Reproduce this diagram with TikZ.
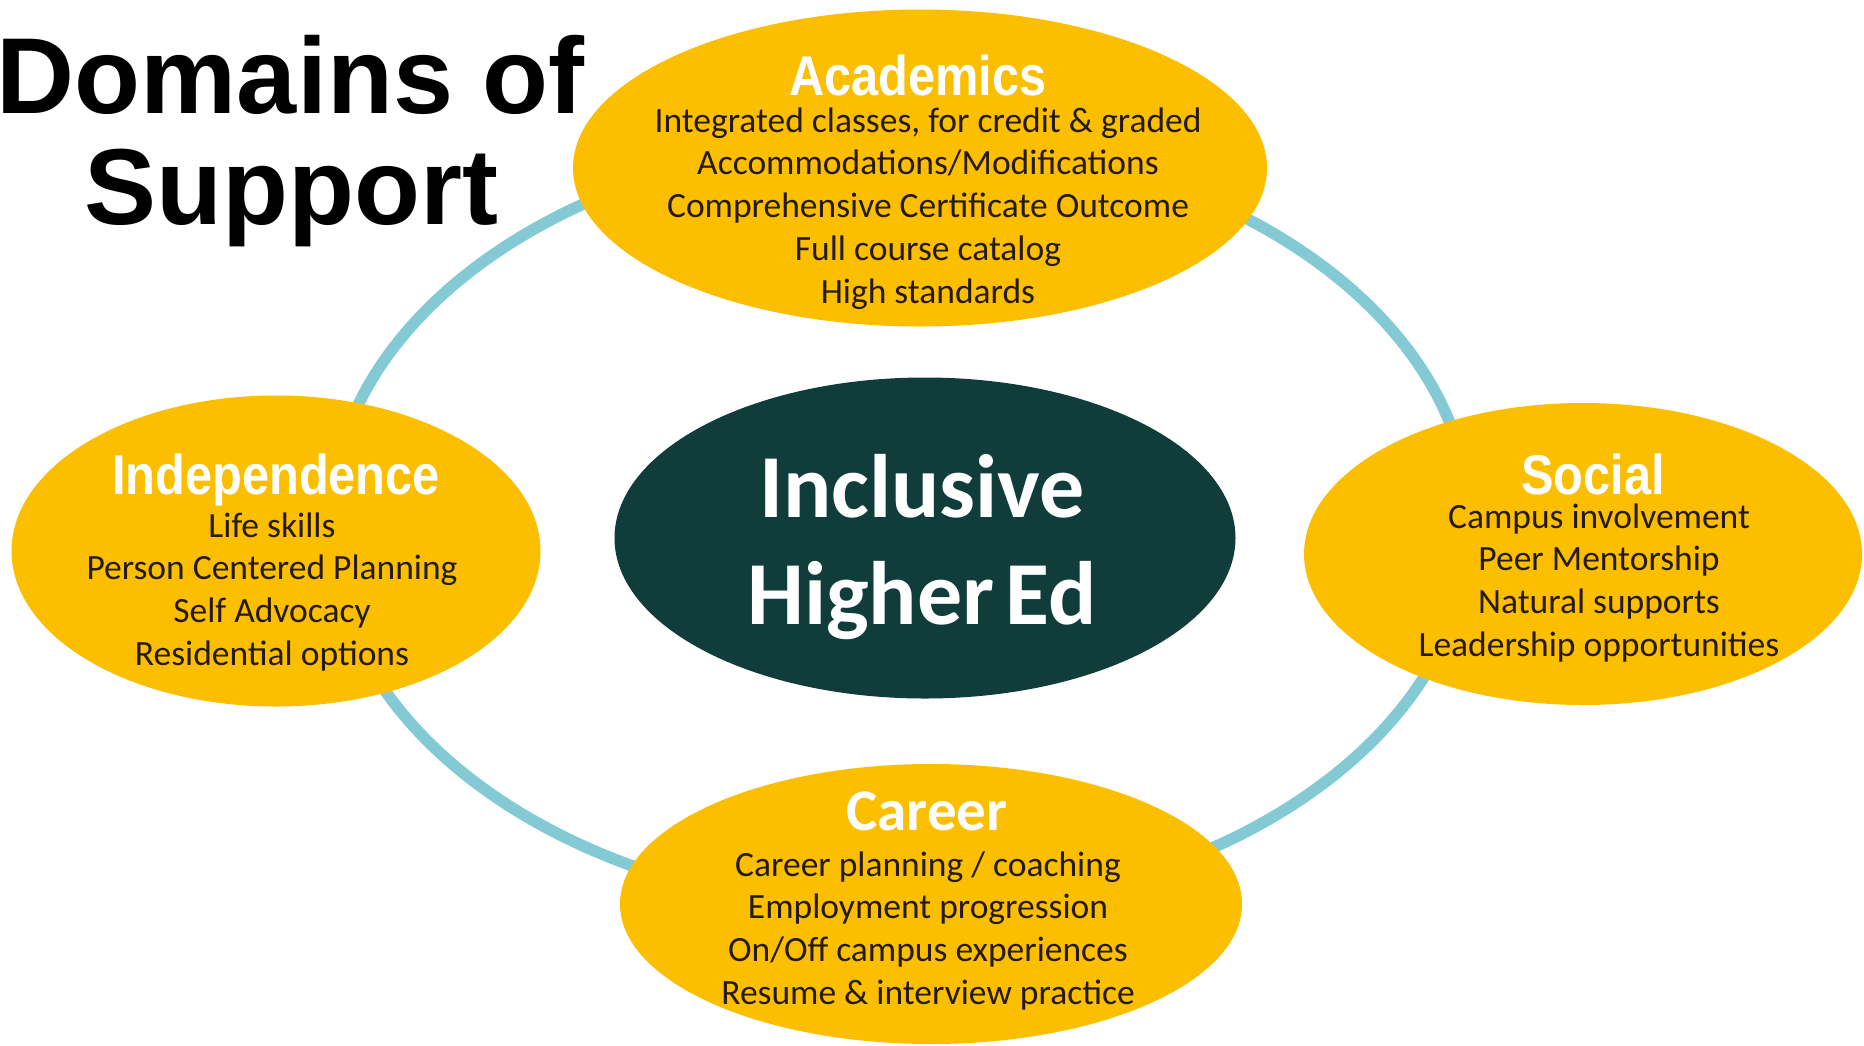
\documentclass[tikz,border=0pt]{standalone}
\usepackage{fontspec}
\setmainfont{Carlito}
\newfontfamily\arialfont{Liberation Sans}
\newfontfamily\narrowfont[FakeStretch=0.87]{Liberation Sans}
\usetikzlibrary{shapes.geometric}

\definecolor{gold}{RGB}{251,191,0}
\definecolor{deepteal}{RGB}{16,60,58}
\definecolor{ringblue}{RGB}{132,202,212}
\definecolor{ink}{RGB}{38,27,10}

\begin{document}
\begin{tikzpicture}[x=1pt,y=-1pt,
  blob/.style={ellipse,fill=gold,inner sep=0pt},
  head/.style={anchor=base,text=white,
    font=\narrowfont\bfseries\fontsize{56}{60}\selectfont},
  item/.style={anchor=base,text=ink,font=\fontsize{35.5}{42.8}\selectfont},
  big/.style={anchor=base,font=\arialfont\bfseries\fontsize{108}{112}\selectfont}]
  \path[use as bounding box,fill=white] (0,0) rectangle (1864,1045);

  % ring behind the four domains
  \node[ellipse,draw=ringblue,line width=11.5pt,inner sep=0pt,
    minimum width=1140pt,minimum height=772pt] (ring) at (900,525) {};

  \node[big] (title-1) at (291,113) {Domains of};
  \node[big] (title-2) at (291,224) {Support};

  % the hub
  \node[ellipse,fill=deepteal,inner sep=0pt,
    minimum width=621pt,minimum height=321pt] (hub) at (925,538) {};
  \node[anchor=base,text=white,font=\bfseries\fontsize{90}{107}\selectfont]
    (hub-1) at (922,517) {Inclusive};
  \node[anchor=base,text=white,font=\bfseries\fontsize{90}{107}\selectfont]
    (hub-2) at (922,624) {Higher\kern-.1em\ Ed};

  % domains
  \node[blob,minimum width=694pt,minimum height=317pt] (acad) at (920,168) {};
  \node[head] (acad-h) at (918,95) {Academics};
  \foreach \txt [count=\i from 0] in {{Integrated classes, for credit \& graded},
      Accommodations/Modifications,Comprehensive Certificate Outcome,
      Full course catalog,High standards}
    \node[item] (acad-\i) at (928,{132+42.8*\i}) {\txt};

  \node[blob,minimum width=529pt,minimum height=311pt] (indep) at (276,551) {};
  \node[head] (indep-h) at (276,494) {Independence};
  \foreach \txt [count=\i from 0] in {Life skills,Person Centered Planning,
      Self Advocacy,Residential options}
    \node[item] (indep-\i) at (272,{537+42.8*\i}) {\txt};

  \node[blob,minimum width=558pt,minimum height=302pt] (social) at (1583,554) {};
  \node[head] (social-h) at (1593,494) {Social};
  \foreach \txt [count=\i from 0] in {Campus involvement,Peer Mentorship,
      Natural supports,Leadership opportunities}
    \node[item] (social-\i) at (1599,{528+42.8*\i}) {\txt};

  \node[blob,minimum width=622pt,minimum height=280pt] (career) at (931,904) {};
  \node[anchor=base,text=white,font=\bfseries\fontsize{59}{64}\selectfont]
    (career-h) at (927,830) {Career};
  \foreach \txt [count=\i from 0] in {Career planning / coaching,
      Employment progression,On/Off campus experiences,
      Resume \& interview practice}
    \node[item] (career-\i) at (928,{876+42.8*\i}) {\txt};
\end{tikzpicture}
\end{document}
